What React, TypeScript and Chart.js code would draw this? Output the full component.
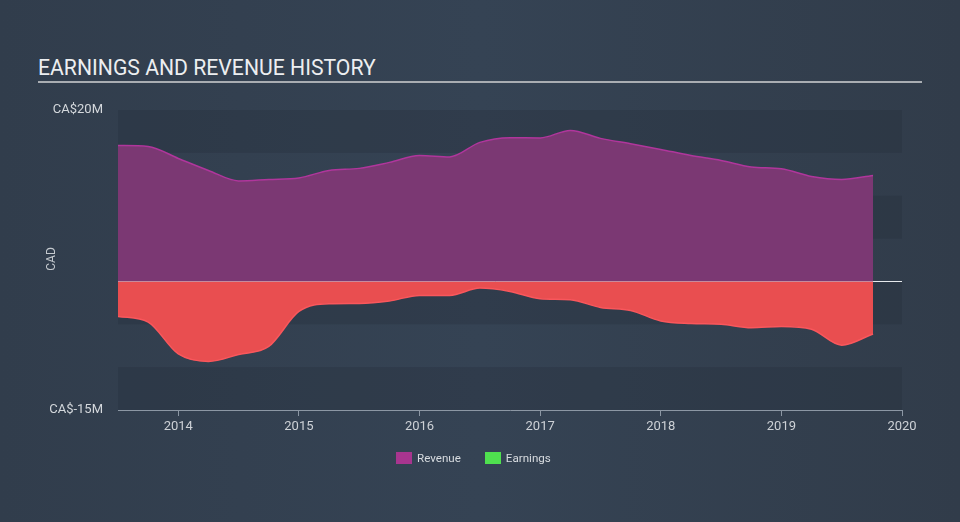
import React, { useEffect, useRef } from "react";
import { Chart, registerables } from "chart.js";

Chart.register(...registerables);

const DATES = [
  2013.5, 2013.75, 2014, 2014.25, 2014.5, 2014.75, 2015, 2015.25, 2015.5, 2015.75,
  2016, 2016.25, 2016.5, 2016.75, 2017, 2017.25, 2017.5, 2017.75, 2018, 2018.25,
  2018.5, 2018.75, 2019, 2019.25, 2019.5, 2019.76,
];
const REVENUE = [
  15.87, 15.75, 14.35, 12.95, 11.73, 11.9, 12.08, 12.95, 13.19, 13.89,
  14.7, 14.53, 16.22, 16.77, 16.74, 17.62, 16.69, 16.07, 15.4, 14.7,
  14.12, 13.36, 13.15, 12.25, 11.9, 12.37,
];
const EARNINGS = [
  -4.08, -4.75, -8.46, -9.33, -8.52, -7.58, -3.5, -2.6, -2.57, -2.28,
  -1.63, -1.63, -0.78, -1.17, -2.02, -2.14, -3.03, -3.38, -4.61, -4.9,
  -4.99, -5.4, -5.25, -5.58, -7.44, -6.13,
];
const YEAR_TICKS = [2014, 2015, 2016, 2017, 2018, 2019, 2020];
const Y_MIN = -15;
const Y_MAX = 20;
const Y_LABELS = ["CA$20M", "CA$-15M"];
const TITLE = "EARNINGS AND REVENUE HISTORY";
const LEGEND = [
  { label: "Revenue", color: "#a8358f" },
  { label: "Earnings", color: "#4fe04f" },
];

const FONT = "Roboto, 'Open Sans', sans-serif";

const bandsPlugin = {
  id: "bands",
  beforeDatasetsDraw(chart: any) {
    const { ctx, chartArea, scales } = chart;
    const y = scales.y;
    ctx.save();
    ctx.fillStyle = "rgba(36,47,60,0.32)";
    let dark = true;
    for (let v = Y_MAX; v > Y_MIN; v -= 5) {
      if (dark) {
        const t = y.getPixelForValue(v);
        const b = y.getPixelForValue(v - 5);
        ctx.fillRect(chartArea.left, t, chartArea.right - chartArea.left, b - t);
      }
      dark = !dark;
    }
    ctx.restore();
  },
  afterDatasetsDraw(chart: any) {
    const { ctx, chartArea, scales } = chart;
    const y0 = Math.round(scales.y.getPixelForValue(0)) + 0.5;
    const xEnd = scales.x.getPixelForValue(DATES[DATES.length - 1]);
    ctx.save();
    ctx.lineWidth = 1;
    ctx.strokeStyle = "rgba(255,200,210,0.55)";
    ctx.beginPath();
    ctx.moveTo(chartArea.left, y0);
    ctx.lineTo(xEnd, y0);
    ctx.stroke();
    ctx.strokeStyle = "#e6e9ec";
    ctx.beginPath();
    ctx.moveTo(xEnd, y0);
    ctx.lineTo(chartArea.right, y0);
    ctx.stroke();
    // y labels
    ctx.fillStyle = "#d4d8dc";
    ctx.font = `13px ${FONT}`;
    ctx.textAlign = "right";
    ctx.textBaseline = "middle";
    ctx.fillText(Y_LABELS[0], chartArea.left - 15, scales.y.getPixelForValue(Y_MAX));
    ctx.fillText(Y_LABELS[1], chartArea.left - 15, scales.y.getPixelForValue(Y_MIN));
    // axis title
    ctx.save();
    ctx.translate(52, (chartArea.top + chartArea.bottom) / 2 - 1);
    ctx.rotate(-Math.PI / 2);
    ctx.textAlign = "center";
    ctx.font = `12px ${FONT}`;
    ctx.fillStyle = "#c4c9ce";
    ctx.fillText("CAD", 0, 0);
    ctx.restore();
    ctx.restore();
  },
};

export default function App() {
  const ref = useRef<HTMLCanvasElement>(null);

  useEffect(() => {
    if (!ref.current) return;
    const chart = new Chart(ref.current, {
      type: "line",
      data: {
        datasets: [
          {
            label: "Revenue",
            data: DATES.map((d, i) => ({ x: d, y: REVENUE[i] })),
            borderColor: "#b0369c",
            backgroundColor: "#7b3873",
            borderWidth: 1.5,
            fill: "origin",
            pointRadius: 0,
            cubicInterpolationMode: "monotone",
          },
          {
            label: "Earnings",
            data: DATES.map((d, i) => ({ x: d, y: EARNINGS[i] })),
            borderColor: "#f9575c",
            backgroundColor: "#e94e50",
            borderWidth: 1.5,
            fill: "origin",
            pointRadius: 0,
            cubicInterpolationMode: "monotone",
          },
        ],
      },
      options: {
        responsive: false,
        animation: false,
        layout: { padding: { left: 118, right: 58, top: 110, bottom: 72 } },
        plugins: { legend: { display: false }, tooltip: { enabled: false } },
        scales: {
          x: {
            type: "linear",
            min: 2013.5,
            max: 2020,
            afterBuildTicks: (scale: any) => {
              scale.ticks = YEAR_TICKS.map((v) => ({ value: v }));
            },
            afterFit: (scale: any) => {
              scale.height = 40;
            },
            grid: {
              drawOnChartArea: false,
              drawTicks: true,
              tickLength: 6,
              color: "#8c97a4",
            },
            border: { display: true, color: "#8c97a4", width: 1 },
            ticks: {
              color: "#cdd1d6",
              font: { family: FONT, size: 13 },
              padding: 3,
              maxRotation: 0,
              autoSkip: false,
              callback: (v: any) => String(v),
            },
          },
          y: {
            display: false,
            min: Y_MIN,
            max: Y_MAX,
          },
        },
      },
      plugins: [bandsPlugin],
    });
    return () => chart.destroy();
  }, []);

  return (
    <div
      style={{
        position: "fixed",
        left: 0,
        top: 0,
        width: 960,
        height: 522,
        background: "linear-gradient(90deg, #313d4c 0%, #354354 50%, #313c4a 100%)",
        fontFamily: FONT,
        overflow: "hidden",
      }}
    >
      <div
        style={{
          position: "absolute",
          left: 38,
          top: 55,
          fontSize: 21.2,
          color: "#eceef0",
          whiteSpace: "nowrap",
          lineHeight: "26px",
        }}
      >
        {TITLE}
      </div>
      <div
        style={{
          position: "absolute",
          left: 38,
          top: 81,
          width: 884,
          height: 2,
          background: "#a9adb2",
        }}
      />
      <canvas ref={ref} width={960} height={522} style={{ position: "absolute", left: 0, top: 0 }} />
      <div
        style={{
          position: "absolute",
          left: 396,
          top: 450,
          display: "flex",
          alignItems: "center",
          fontSize: 11.6,
          color: "#d8dce0",
        }}
      >
        {LEGEND.map((l, i) => (
          <div key={l.label} style={{ display: "flex", alignItems: "center", marginRight: i === 0 ? 24 : 0 }}>
            <div style={{ width: 16, height: 12, background: l.color, marginRight: 5 }} />
            <span style={{ lineHeight: "16px" }}>{l.label}</span>
          </div>
        ))}
      </div>
    </div>
  );
}
